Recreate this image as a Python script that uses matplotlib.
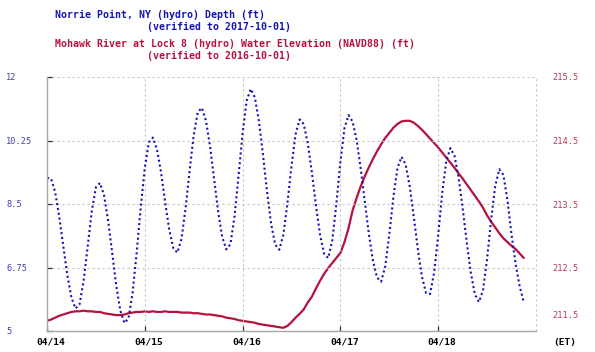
import numpy as np
import matplotlib
matplotlib.use("Agg")
import matplotlib.pyplot as plt
import matplotlib.transforms as mtransforms

# hourly readings starting 04/14 00:00 (ET)
hours = np.arange(118)

depth_ft = [
    9.22, 9.20, 8.83, 8.15, 7.34, 6.53, 5.92, 5.62, 5.74, 6.39,
    7.35, 8.31, 8.96, 9.08, 8.74, 8.04, 7.15, 6.25, 5.56, 5.22,
    5.35, 6.05, 7.15, 8.40, 9.50, 10.20, 10.33, 10.00, 9.36, 8.55,
    7.79, 7.28, 7.16, 7.54, 8.38, 9.42, 10.39, 11.03, 11.15, 10.80,
    10.10, 9.20, 8.29, 7.59, 7.25, 7.39, 8.14, 9.27, 10.45, 11.35,
    11.67, 11.44, 10.79, 9.86, 8.84, 7.95, 7.38, 7.24, 7.65, 8.52,
    9.55, 10.42, 10.83, 10.70, 10.17, 9.37, 8.46, 7.66, 7.13, 7.01,
    7.49, 8.49, 9.67, 10.59, 10.95, 10.77, 10.25, 9.46, 8.56, 7.66,
    6.93, 6.47, 6.36, 6.78, 7.66, 8.69, 9.49, 9.80, 9.59, 9.00,
    8.15, 7.26, 6.50, 6.05, 6.02, 6.61, 7.65, 8.82, 9.70, 10.04,
    9.83, 9.23, 8.39, 7.45, 6.61, 6.01, 5.80, 6.12, 6.99, 8.08,
    9.00, 9.46, 9.30, 8.60, 7.65, 6.85, 6.22, 5.80,
]

elev_ft = [
    211.66, 211.68, 211.71, 211.74, 211.76, 211.78, 211.80, 211.81, 211.81, 211.82,
    211.81, 211.81, 211.80, 211.80, 211.78, 211.77, 211.76, 211.75, 211.75, 211.76,
    211.78, 211.79, 211.80, 211.80, 211.81, 211.80, 211.81, 211.80, 211.80, 211.81,
    211.80, 211.80, 211.80, 211.79, 211.79, 211.79, 211.78, 211.78, 211.77, 211.76,
    211.76, 211.75, 211.74, 211.73, 211.71, 211.70, 211.69, 211.67, 211.66, 211.65,
    211.64, 211.63, 211.61, 211.60, 211.59, 211.58, 211.57, 211.56, 211.55, 211.58,
    211.64, 211.71, 211.77, 211.84, 211.95, 212.04, 212.17, 212.29, 212.40, 212.49,
    212.57, 212.65, 212.73, 212.90, 213.12, 213.40, 213.60, 213.78, 213.94, 214.08,
    214.21, 214.33, 214.44, 214.54, 214.62, 214.70, 214.76, 214.80, 214.81, 214.81,
    214.78, 214.73, 214.67, 214.60, 214.53, 214.46, 214.39, 214.31, 214.23, 214.15,
    214.07, 213.98, 213.90, 213.81, 213.72, 213.63, 213.54, 213.44, 213.32, 213.22,
    213.13, 213.04, 212.96, 212.90, 212.84, 212.79, 212.72, 212.65,
]

day_ticks = [0, 24, 48, 72, 96]
day_labels = ["04/14", "04/15", "04/16", "04/17", "04/18"]
depth_ticks = [5, 6.75, 8.5, 10.25, 12]
depth_labels = ["5", "6.75", "8.5", "10.25", "12"]
elev_ticks = [212.5, 213.5, 214.5, 215.5]
elev_labels = ["212.5", "213.5", "214.5", "215.5"]

BLUE = "#1414b4"
RED = "#b5123f"
GRID = "#c4c4c4"
MONO = "DejaVu Sans Mono"

fig = plt.figure(figsize=(5.95, 3.52), dpi=100)
ax = fig.add_axes([47 / 595, 1 - 331 / 352, (536 - 47) / 595, (331 - 77) / 352])
ax2 = ax.twinx()
ax.set_zorder(ax2.get_zorder() + 1)
ax.patch.set_visible(False)

# red: water elevation (right scale)
ax2.plot(hours, elev_ft, color=RED, lw=1.6, solid_capstyle="round")
ax2.set_ylim(211.5, 215.5)
ax2.set_yticks(elev_ticks)
ax2.set_yticklabels(elev_labels)
ax2.tick_params(axis="y", length=0, pad=11.5, labelsize=6.2, labelcolor="#c0385a")
for t in ax2.get_yticklabels():
    t.set_horizontalalignment("left")
    t.set_family(MONO)
ax2.annotate("211.5", xy=(1, 211.5), xycoords=("axes fraction", "data"),
             xytext=(11.5, 10.8), textcoords="offset points", ha="left", va="center",
             fontsize=6.2, family=MONO, color="#c0385a", annotation_clip=False)
for s in ax2.spines.values():
    s.set_visible(False)

# blue: depth (left scale), dotted
ax.plot(hours, depth_ft, color=BLUE, lw=1.5, linestyle=(0, (1, 1.35)))
ax.set_xlim(0, 120)
ax.set_ylim(5, 12)
ax.set_yticks(depth_ticks)
ax.set_yticklabels(depth_labels)
ax.set_xticks(day_ticks)
ax.set_xticklabels(day_labels)
ax.tick_params(axis="y", direction="in", length=3.6, width=0.9, color="#333333",
               pad=29.5, labelsize=6.2, labelcolor="#4040a8")
ax.tick_params(axis="x", direction="in", length=3.6, width=0.9, color="#333333",
               pad=5, labelsize=6.8)
for t in ax.get_yticklabels():
    t.set_horizontalalignment("left")
    t.set_family(MONO)
shift = mtransforms.ScaledTranslation(4 / 100, 0, fig.dpi_scale_trans)
for t in ax.get_xticklabels():
    t.set_family(MONO)
    t.set_fontweight("bold")
    t.set_transform(t.get_transform() + shift)

ax.grid(True, color=GRID, lw=0.8, linestyle=(0, (2, 2.5)))
ax.axvline(120, color=GRID, lw=0.8, linestyle=(0, (2, 2.5)), clip_on=False)
for side in ("top", "right"):
    ax.spines[side].set_visible(False)
for side in ("left", "bottom"):
    ax.spines[side].set_color("#a8a8a8")
    ax.spines[side].set_linewidth(1.0)

# header
fig.text(55 / 595, 1 - 15 / 352, "Norrie Point, NY (hydro) Depth (ft)", color=BLUE,
         fontsize=7.1, family=MONO, fontweight="bold", va="center")
fig.text(147 / 595, 1 - 27 / 352, "(verified to 2017-10-01)", color=BLUE,
         fontsize=7.1, family=MONO, fontweight="bold", va="center")
fig.text(55 / 595, 1 - 44 / 352,
         "Mohawk River at Lock 8 (hydro) Water Elevation (NAVD88) (ft)", color=RED,
         fontsize=7.1, family=MONO, fontweight="bold", va="center")
fig.text(147 / 595, 1 - 56 / 352, "(verified to 2016-10-01)", color=RED,
         fontsize=7.1, family=MONO, fontweight="bold", va="center")
fig.text(553 / 595, 1 - 342 / 352, "(ET)", color="black", fontsize=6.8,
         family=MONO, fontweight="bold", va="center")

fig.savefig("out.png", dpi=100, facecolor="white")
